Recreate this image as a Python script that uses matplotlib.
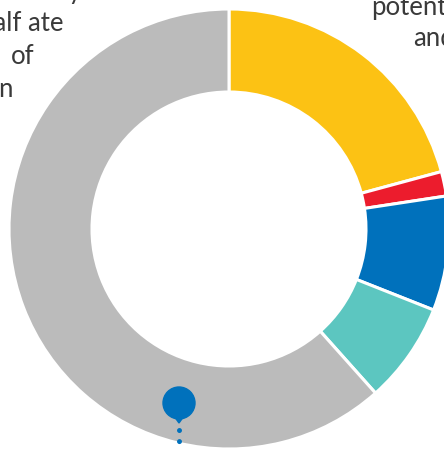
import matplotlib.pyplot as plt
from matplotlib.patches import Circle, Polygon

# share of the ring, clockwise from 12 o'clock
labels = ["yellow", "red", "blue", "teal", "gray"]
shares = [20.8, 1.8, 8.4, 7.4, 61.6]
colors = ["#FCC214", "#EC1C2D", "#0071BC", "#5CC6C0", "#BBBBBB"]

left_lines = ["nearly", "half ate", "of", "n"]
right_lines = ["potential", "and"]

W, H = 444, 451
fig = plt.figure(figsize=(W / 100, H / 100), dpi=100)
ax = fig.add_axes([0, 0, 1, 1])

cx, cy = 229, H - 229
R = 220
ax.pie(shares, colors=colors, startangle=90, counterclock=False,
       radius=R, center=(cx, cy),
       wedgeprops=dict(width=83, edgecolor="white", linewidth=2.2))

ax.set_xlim(0, W)
ax.set_ylim(0, H)
ax.set_aspect("equal")
ax.axis("off")

# blue pin with dotted leader
px, py = 179, H - 403
ax.add_patch(Circle((px, py), 16, color="#0071BC", zorder=5))
ax.add_patch(Polygon([[px - 5, py - 13], [px + 5, py - 13], [px, py - 20]],
                     color="#0071BC", zorder=5))
ax.plot([px, px], [H - 430, -8], color="#0071BC", lw=3.6,
        linestyle=(0, (0.01, 2.2)), dash_capstyle="round", zorder=5)

txt = dict(fontsize=18.5, color="#3a3a3a", family="Lato")
# text fragments cut by the image edges
ax.text(82, H + 1, left_lines[0], ha="right", va="baseline", **txt)
ax.text(63, H - 31, left_lines[1], ha="right", va="baseline", **txt)
ax.text(34, H - 64, left_lines[2], ha="right", va="baseline", **txt)
ax.text(13, H - 97, left_lines[3], ha="right", va="baseline", **txt)
ax.text(371, H - 15, right_lines[0], ha="left", va="baseline", **txt)
ax.text(413, H - 46, right_lines[1], ha="left", va="baseline", **txt)

fig.savefig("out.png", dpi=100)
plt.close(fig)
